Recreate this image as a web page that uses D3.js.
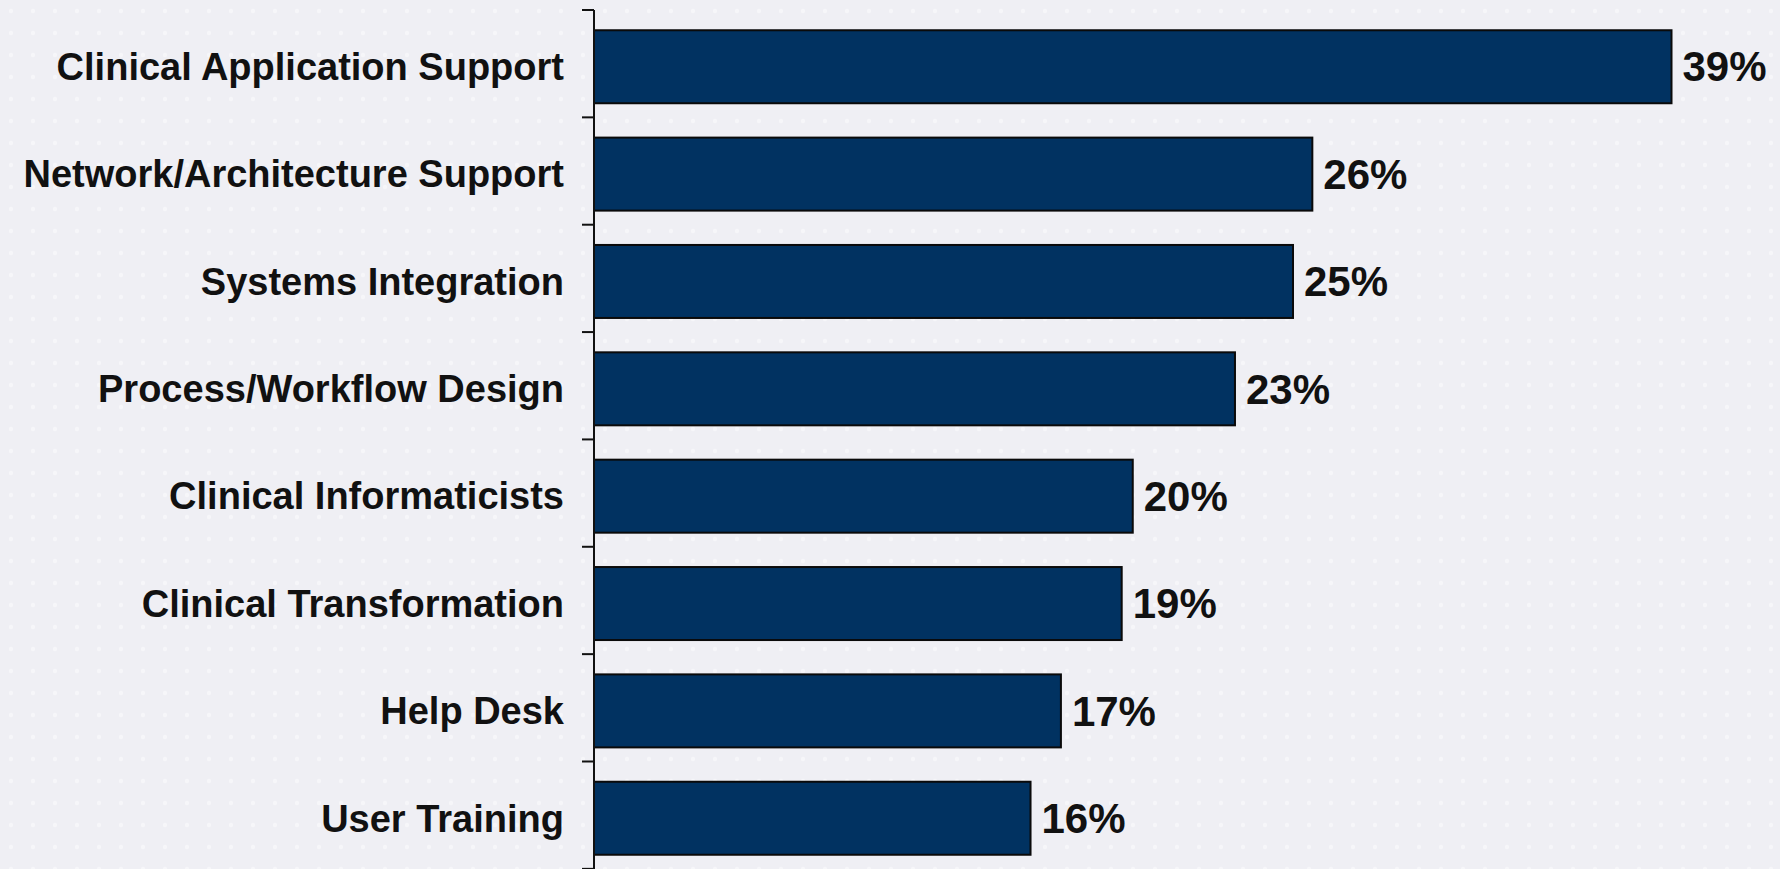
<!DOCTYPE html>
<html>
<head>
<meta charset="utf-8">
<script src="https://cdn.jsdelivr.net/npm/d3@7/dist/d3.min.js"></script>
<style>
  html, body { margin: 0; padding: 0; background: #efeff4; }
  svg { display: block; }
</style>
</head>
<body>
<svg id="chart" width="1780" height="869"></svg>
<script>
const categories = [
  "Clinical Application Support",
  "Network/Architecture Support",
  "Systems Integration",
  "Process/Workflow Design",
  "Clinical Informaticists",
  "Clinical Transformation",
  "Help Desk",
  "User Training"
];
const values = [39.0, 26.0, 25.3, 23.2, 19.5, 19.1, 16.9, 15.8];

const W = 1780, H = 869;
const svg = d3.select("#chart");

// faint dotted background pattern
const defs = svg.append("defs");
const pat = defs.append("pattern")
  .attr("id", "dots").attr("width", 22).attr("height", 22)
  .attr("patternUnits", "userSpaceOnUse");
pat.append("circle").attr("cx", 11).attr("cy", 11).attr("r", 2.2)
  .attr("fill", "#ffffff").attr("opacity", 0.45);
svg.append("rect").attr("width", W).attr("height", H).attr("fill", "#efeff4");
svg.append("rect").attr("width", W).attr("height", H).attr("fill", "url(#dots)");

const axisX = 594;
const x = d3.scaleLinear().domain([0, 39]).range([axisX, 1671.5]);
const y = d3.scaleBand().domain(categories).range([10, 871])
  .paddingInner(0.32).paddingOuter(0.17);

const data = categories.map((c, i) => ({ cat: c, val: values[i] }));

// bars
svg.append("g").selectAll("rect").data(data).join("rect")
  .attr("x", x(0))
  .attr("y", d => y(d.cat) + 2)
  .attr("width", d => x(d.val) - x(0))
  .attr("height", y.bandwidth())
  .attr("fill", "#013261")
  .attr("stroke", "#0a0a0a")
  .attr("stroke-width", 2);

// axis line and ticks at band boundaries
const axisG = svg.append("g");
const r0 = y.range()[0], step = y.step();
axisG.append("line")
  .attr("x1", axisX).attr("x2", axisX)
  .attr("y1", r0).attr("y2", y.range()[1])
  .attr("stroke", "#111").attr("stroke-width", 2);
axisG.selectAll("line.tick").data(d3.range(categories.length + 1)).join("line")
  .attr("class", "tick")
  .attr("x1", axisX - 12).attr("x2", axisX)
  .attr("y1", i => r0 + i * step).attr("y2", i => r0 + i * step)
  .attr("stroke", "#111").attr("stroke-width", 2);

// category labels
svg.append("g").selectAll("text").data(data).join("text")
  .attr("x", 564)
  .attr("y", d => y(d.cat) + y.bandwidth() / 2 + 2)
  .attr("dy", "0.35em")
  .attr("text-anchor", "end")
  .attr("font-family", "'Liberation Sans', Arial, sans-serif")
  .attr("font-weight", "bold")
  .attr("font-size", 38)
  .attr("fill", "#111")
  .text(d => d.cat);

// value labels
svg.append("g").selectAll("text").data(data).join("text")
  .attr("x", d => x(d.val) + 11)
  .attr("y", d => y(d.cat) + y.bandwidth() / 2 + 2)
  .attr("dy", "0.35em")
  .attr("font-family", "'Liberation Sans', Arial, sans-serif")
  .attr("font-weight", "bold")
  .attr("font-size", 42)
  .attr("fill", "#111")
  .text(d => Math.round(d.val) + "%");
</script>
</body>
</html>
